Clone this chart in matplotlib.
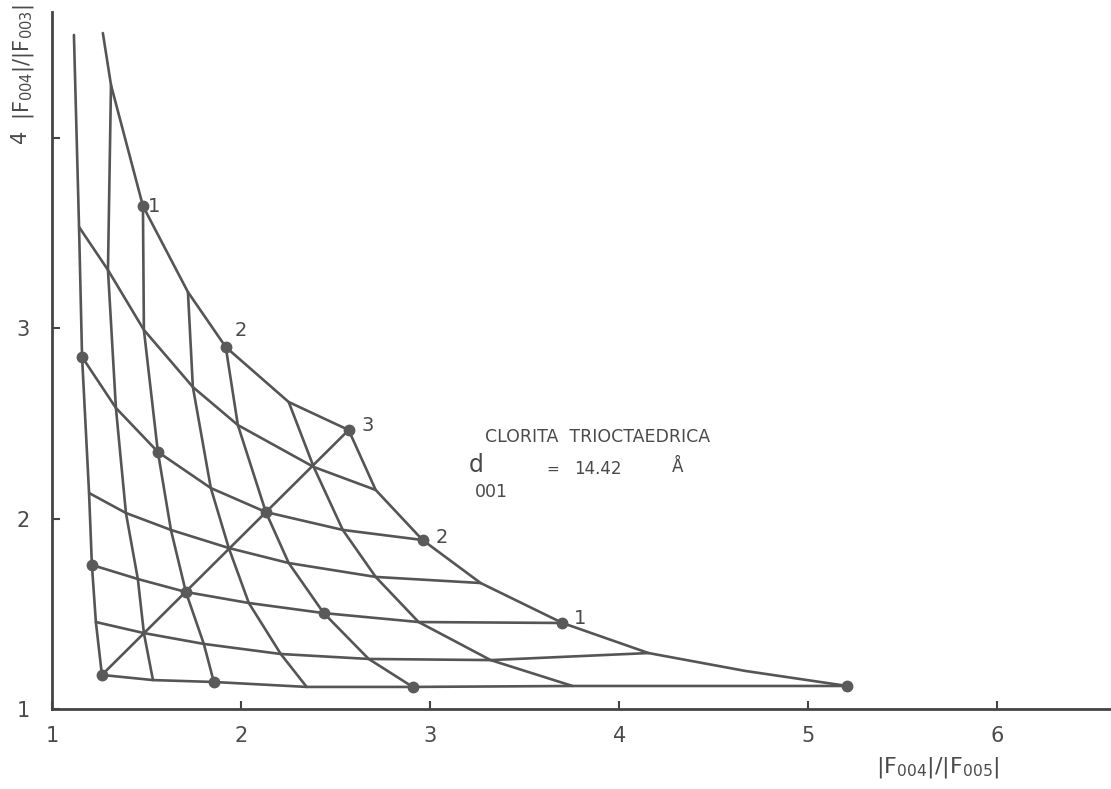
import matplotlib
matplotlib.use("Agg")
import matplotlib.pyplot as plt

# ---- data (x = |F004|/|F005|, y = |F004|/|F003|) ----
# lines of constant first parameter (u = 0, 0.5, ... 3), listed from v = 0 upward
u0_x = [1.264, 1.232, 1.211, 1.196, 1.159, 1.143, 1.116]
u0_y = [1.179, 1.457, 1.757, 2.135, 2.850, 3.533, 4.542]
u05_x = [1.534, 1.486, 1.454, 1.391, 1.338, 1.296, 1.312]
u05_y = [1.152, 1.399, 1.683, 2.030, 2.582, 3.307, 4.279]
u1_x = [1.856, 1.803, 1.708, 1.629, 1.560, 1.486, 1.481]
u1_y = [1.142, 1.342, 1.615, 1.941, 2.351, 2.992, 3.643]
u15_x = [2.347, 2.210, 2.041, 1.935, 1.840, 1.745, 1.719]
u15_y = [1.116, 1.289, 1.557, 1.846, 2.161, 2.692, 3.191]
u2_x = [2.908, 2.675, 2.437, 2.252, 2.131, 1.983, 1.919]
u2_y = [1.116, 1.263, 1.504, 1.767, 2.035, 2.492, 2.902]
u25_x = [3.753, 3.320, 2.939, 2.712, 2.538, 2.384, 2.252]
u25_y = [1.121, 1.257, 1.457, 1.694, 1.941, 2.272, 2.613]
u3_x = [5.206, 4.667, 4.155, 3.700, 3.267, 2.960, 2.712, 2.569]
u3_y = [1.121, 1.200, 1.294, 1.452, 1.662, 1.888, 2.151, 2.466]

# lines of constant second parameter (v = 0, 0.5, ... 3), listed from u = 0 rightward
v0_x = [1.264, 1.534, 1.856, 2.347, 2.908, 3.753, 5.206]
v0_y = [1.179, 1.152, 1.142, 1.116, 1.116, 1.121, 1.121]
v05_x = [1.232, 1.486, 1.803, 2.210, 2.675, 3.320, 4.155]
v05_y = [1.457, 1.399, 1.342, 1.289, 1.263, 1.257, 1.294]
v1_x = [1.211, 1.454, 1.708, 2.041, 2.437, 2.939, 3.700]
v1_y = [1.757, 1.683, 1.615, 1.557, 1.504, 1.457, 1.452]
v15_x = [1.196, 1.391, 1.629, 1.935, 2.252, 2.712, 3.267]
v15_y = [2.135, 2.030, 1.941, 1.846, 1.767, 1.694, 1.662]
v2_x = [1.159, 1.338, 1.560, 1.840, 2.131, 2.538, 2.960]
v2_y = [2.850, 2.582, 2.351, 2.161, 2.035, 1.941, 1.888]
v25_x = [1.143, 1.296, 1.486, 1.745, 1.983, 2.384, 2.712]
v25_y = [3.533, 3.307, 2.992, 2.692, 2.492, 2.272, 2.151]
v3_x = [1.269, 1.312, 1.481, 1.719, 1.919, 2.252, 2.569]
v3_y = [4.552, 4.279, 3.643, 3.191, 2.902, 2.613, 2.466]

# diagonal (u = v)
diag_x = [1.264, 2.569]
diag_y = [1.179, 2.466]

# marked integer points
dot_x = [1.264, 1.856, 2.908, 5.206, 1.211, 1.708, 2.437, 3.700,
         1.159, 1.560, 2.131, 2.960, 1.481, 1.919, 2.569]
dot_y = [1.179, 1.142, 1.116, 1.121, 1.757, 1.615, 1.504, 1.452,
         2.850, 2.351, 2.035, 1.888, 3.643, 2.902, 2.466]

# point labels on the boundary
lab_text = ["1", "2", "3", "2", "1"]
lab_x = [1.481, 1.919, 2.569, 2.960, 3.700]
lab_y = [3.643, 2.902, 2.466, 1.888, 1.452]
lab_dx = [8, 11, 14, 14, 13]
lab_dy = [0, 12, 3, 2, 3]

x_ticks = [1, 2, 3, 4, 5, 6]
y_ticks = [1, 2, 3, 4]

ink = "#4a4a4a"

fig = plt.figure(figsize=(11.11, 7.89), dpi=100)
ax = fig.add_axes([52 / 1111, 80 / 789, (1111 - 52) / 1111, (709 - 12) / 789])
ax.set_xlim(1, 1 + (1111 - 51) / 189.25)
ax.set_ylim(1, 1 + (709 - 12) / 190.3)

lines = [(u0_x, u0_y), (u05_x, u05_y), (u1_x, u1_y), (u15_x, u15_y),
         (u2_x, u2_y), (u25_x, u25_y), (u3_x, u3_y),
         (v0_x, v0_y), (v05_x, v05_y), (v1_x, v1_y), (v15_x, v15_y),
         (v2_x, v2_y), (v25_x, v25_y), (v3_x, v3_y), (diag_x, diag_y)]
for lx, ly in lines:
    ax.plot(lx, ly, color="#555555", lw=1.9, solid_capstyle="round",
            solid_joinstyle="round", clip_on=False)

ax.plot(dot_x, dot_y, "o", color="#5a5a5a", ms=7.5, mec="#5a5a5a", zorder=5)

for t, x, y, dx, dy in zip(lab_text, lab_x, lab_y, lab_dx, lab_dy):
    ax.annotate(t, (x, y), xytext=(dx, dy), textcoords="offset points",
                ha="center", va="center", fontsize=14, color=ink)

for s in ["top", "right"]:
    ax.spines[s].set_visible(False)
for s in ["left", "bottom"]:
    ax.spines[s].set_color("#444444")
    ax.spines[s].set_linewidth(2)

ax.set_xticks(x_ticks)
ax.set_yticks(y_ticks)
ax.set_xticklabels([str(v) for v in x_ticks])
ax.set_yticklabels([str(v) for v in y_ticks])
ax.tick_params(axis="x", direction="in", length=6, width=1.5, color="#444444",
               labelsize=15, labelcolor=ink, pad=12)
ax.tick_params(axis="y", direction="in", length=6, width=1.5, color="#444444",
               labelsize=15, labelcolor=ink, pad=16)
ax.get_yticklabels()[3].set_rotation(90)

fig.text(24 / 1111, 1 - 62 / 789, r"$|\mathrm{F}_{004}|/|\mathrm{F}_{003}|$",
         rotation=90, ha="center", va="center", fontsize=15, color=ink)
fig.text(938 / 1111, 1 - 768 / 789, r"$|\mathrm{F}_{004}|/|\mathrm{F}_{005}|$",
         ha="center", va="center", fontsize=16, color=ink)

fig.text(598 / 1111, 1 - 437 / 789, "CLORITA  TRIOCTAEDRICA",
         ha="center", va="center", fontsize=12.5, color=ink)
fig.text(476 / 1111, 1 - 465 / 789, "d", ha="center", va="center",
         fontsize=17, color=ink)
fig.text(491 / 1111, 1 - 492 / 789, "001", ha="center", va="center",
         fontsize=12.5, color=ink)
fig.text(553 / 1111, 1 - 469 / 789, "=", ha="center", va="center",
         fontsize=11, color=ink)
fig.text(598 / 1111, 1 - 469 / 789, "14.42", ha="center", va="center",
         fontsize=12, color=ink)
fig.text(678 / 1111, 1 - 467 / 789, "Å", ha="center", va="center",
         fontsize=12, color=ink)

fig.savefig("out.png", dpi=100)
